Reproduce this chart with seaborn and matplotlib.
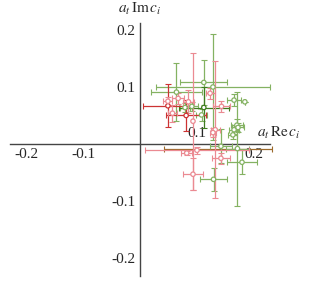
import numpy as np
import pandas as pd
import matplotlib
matplotlib.use("Agg")
import matplotlib.pyplot as plt
import matplotlib.transforms as mtransforms
import seaborn as sns

# ---- data ----
green_x = [0.112, 0.128, 0.064, 0.091, 0.079, 0.108, 0.165, 0.184, 0.170, 0.165, 0.163, 0.172, 0.142, 0.171, 0.179, 0.129]
green_y = [0.108, 0.100, 0.091, 0.066, 0.064, 0.051, 0.077, 0.074, 0.033, 0.025, 0.016, 0.029, -0.004, -0.008, -0.032, -0.062]
green_xerr = [0.041, 0.100, 0.044, 0.010, 0.008, 0.010, 0.013, 0.0, 0.010, 0.008, 0.008, 0.010, 0.020, 0.020, 0.026, 0.023]
green_yerr = [0.040, 0.093, 0.051, 0.008, 0.008, 0.010, 0.010, 0.0, 0.010, 0.008, 0.008, 0.008, 0.030, 0.100, 0.021, 0.020]

dkgreen_x = [0.112]
dkgreen_y = [0.064]
dkgreen_xerr = [0.044]
dkgreen_yerr = [0.036]

red_x = [0.081, 0.049]
red_y = [0.050, 0.067]
red_xerr = [0.035, 0.044]
red_yerr = [0.028, 0.038]

pink_x = [0.049, 0.057, 0.067, 0.085, 0.093, 0.132, 0.128, 0.143, 0.093, 0.142, 0.082, 0.123, 0.100]
pink_y = [0.075, 0.054, 0.080, 0.074, 0.040, 0.025, 0.020, 0.066, -0.053, -0.025, -0.016, 0.089, -0.011]
pink_xerr = [0.008, 0.008, 0.010, 0.010, 0.0, 0.008, 0.006, 0.015, 0.018, 0.016, 0.010, 0.008, 0.091]
pink_yerr = [0.008, 0.015, 0.010, 0.020, 0.120, 0.120, 0.008, 0.010, 0.028, 0.010, 0.004, 0.010, 0.006]

brown_x = [0.137]
brown_y = [-0.009]
brown_xerr = [0.094]

xticks = [-0.2, -0.1, 0.1, 0.2]
yticks = [-0.2, -0.1, 0.1, 0.2]

groups = {
    "green": (green_x, green_y, green_xerr, green_yerr, "#84b262"),
    "dkgreen": (dkgreen_x, dkgreen_y, dkgreen_xerr, dkgreen_yerr, "#3f7d1f"),
    "red": (red_x, red_y, red_xerr, red_yerr, "#cc3333"),
    "pink": (pink_x, pink_y, pink_xerr, pink_yerr, "#eb8a92"),
}

df = pd.concat([pd.DataFrame({"x": v[0], "y": v[1], "group": k}) for k, v in groups.items()],
               ignore_index=True)
palette = {k: v[4] for k, v in groups.items()}

sns.set_style("white")
plt.rcParams["font.family"] = ["Liberation Serif", "DejaVu Serif"]
plt.rcParams["mathtext.fontset"] = "stix"

fig = plt.figure(figsize=(3.12, 2.84), dpi=100)
ax = fig.add_axes([0, 0, 1, 1])
ax.set_xlim(-0.2456, 0.3018)
ax.set_ylim(-0.2456, 0.2526)

# error bars
ax.errorbar(brown_x, brown_y, xerr=brown_xerr, fmt="none", ecolor="#9b6a2c",
            elinewidth=0.9, capsize=2, capthick=0.8, zorder=2)
for k, (gx, gy, gxe, gye, col) in groups.items():
    ax.errorbar(gx, gy, xerr=gxe, yerr=gye, fmt="none", ecolor=col,
                elinewidth=0.9, capsize=2, capthick=0.8, zorder=3)

sns.scatterplot(data=df, x="x", y="y", hue="group", palette=palette, ax=ax,
                marker="o", s=10, linewidth=0.9, legend=False, zorder=4)
# open markers: move hue colour to the edges
coll = ax.collections[-1]
coll.set_edgecolors(coll.get_facecolors())
coll.set_facecolors("white")

# axes through origin, Mathematica style
for s in ["top", "right"]:
    ax.spines[s].set_visible(False)
ax.spines["left"].set_position(("data", 0))
ax.spines["bottom"].set_position(("data", 0))
ax.spines["left"].set_bounds(-0.232, 0.212)
ax.spines["bottom"].set_bounds(-0.228, 0.228)
for s in ["left", "bottom"]:
    ax.spines[s].set_color("#444444")
    ax.spines[s].set_linewidth(1.0)
    ax.spines[s].set_zorder(1)

ax.set_xticks(xticks)
ax.set_xticklabels([f"{t:g}" for t in xticks])
ax.set_yticks(yticks)
ax.set_yticklabels([f"{t:g}" for t in yticks])
ax.tick_params(axis="both", direction="inout", length=4, width=0.8, color="#333333",
               labelsize=11, pad=1)
# the 0.1 label sits above the axis in the reference
for lab, t in zip(ax.get_xticklabels(), xticks):
    if t == 0.1:
        lab.set_transform(lab.get_transform() +
                          mtransforms.ScaledTranslation(0, 0.21, fig.dpi_scale_trans))
ax.set_xlabel("")
ax.set_ylabel("")

ax.text(0.244, 0.006, r"$a_t\,\mathrm{Re}\,c_i$", fontsize=11, ha="center", va="bottom")
ax.text(0.0, 0.222, r"$a_t\,\mathrm{Im}\,c_i$", fontsize=11, ha="center", va="bottom")

fig.savefig("out.png", dpi=100)
